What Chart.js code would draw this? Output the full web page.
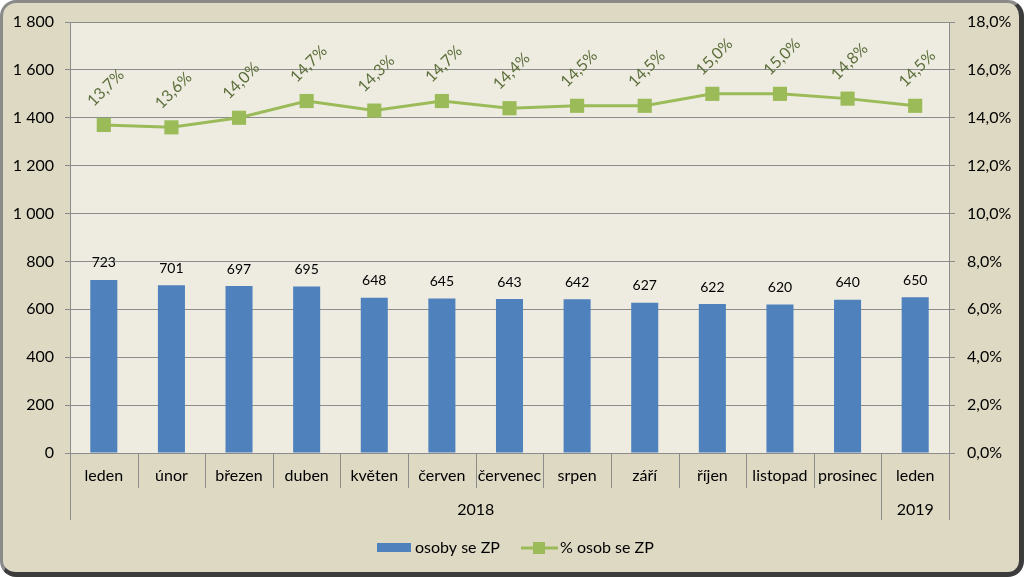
<!DOCTYPE html>
<html>
<head>
<meta charset="utf-8">
<script src="https://cdn.jsdelivr.net/npm/chart.js@4/dist/chart.umd.min.js"></script>
<style>
  html, body { margin: 0; padding: 0; background: #ffffff; }
  #frame {
    position: absolute; left: 0; top: 0; width: 1024px; height: 577px;
    box-sizing: border-box; background: #DDD9C3;
    border-top: 3px solid #8a8a8a; border-left: 3px solid #8a8a8a;
    border-right: 5px solid #3c3c3c; border-bottom: 5px solid #3c3c3c;
    border-radius: 16px;
  }
  #c { position: absolute; left: 0; top: 0; }
</style>
</head>
<body>
<div id="frame"></div>
<canvas id="c" width="1024" height="577"></canvas>
<script>
const categories = ['leden', 'únor', 'březen', 'duben', 'květen', 'červen', 'červenec', 'srpen', 'září', 'říjen', 'listopad', 'prosinec', 'leden'];
const yearGroups = [
  { label: '2018', from: 0, to: 11 },
  { label: '2019', from: 12, to: 12 }
];
const personsValues = [723, 701, 697, 695, 648, 645, 643, 642, 627, 622, 620, 640, 650];
const percentValues = [13.7, 13.6, 14.0, 14.7, 14.3, 14.7, 14.4, 14.5, 14.5, 15.0, 15.0, 14.8, 14.5];
const seriesNames = ['osoby se ZP', '% osob se ZP'];

const FONT = 'Lato, "Open Sans", "DejaVu Sans", sans-serif';
const BAR_COLOR = '#4F81BD';
const LINE_COLOR = '#9BBB59';
const GRID_COLOR = '#8C8C8C';

const fmtThousands = v => String(v).replace(/\B(?=(\d{3})+(?!\d))/g, ' ');
const fmtPct = v => v.toFixed(1).replace('.', ',') + '%';

const decorPlugin = {
  id: 'decor',
  beforeDraw(chart) {
    const { ctx, chartArea: a } = chart;
    ctx.save();
    ctx.fillStyle = '#EEECE1';
    ctx.fillRect(a.left, a.top, a.right - a.left, a.bottom - a.top);
    ctx.restore();
  },
  afterDraw(chart) {
    const { ctx, chartArea: a } = chart;
    const x = chart.scales.x;
    const n = categories.length;
    const step = (a.right - a.left) / n;
    ctx.save();
    // category dividers
    ctx.strokeStyle = GRID_COLOR;
    ctx.lineWidth = 1;
    const groupBoundaries = new Set();
    yearGroups.forEach(g => { groupBoundaries.add(g.from); groupBoundaries.add(g.to + 1); });
    for (let i = 0; i <= n; i++) {
      const px = Math.round(x.getPixelForValue(i) - step / 2) + 0.5;
      const bottom = groupBoundaries.has(i) ? a.bottom + 67 : a.bottom + 35;
      ctx.beginPath();
      ctx.moveTo(px, a.bottom);
      ctx.lineTo(px, bottom);
      ctx.stroke();
    }
    // category labels
    ctx.fillStyle = '#000000';
    ctx.font = '16px ' + FONT;
    ctx.textAlign = 'center';
    ctx.textBaseline = 'middle';
    categories.forEach((c, i) => {
      ctx.fillText(c, x.getPixelForValue(i), a.bottom + 23);
    });
    // year labels
    yearGroups.forEach(g => {
      const cx = (x.getPixelForValue(g.from) + x.getPixelForValue(g.to)) / 2;
      ctx.fillText(g.label, cx, a.bottom + 57);
    });
    // bar value labels
    const barMeta = chart.getDatasetMeta(0);
    ctx.font = '14px ' + FONT;
    barMeta.data.forEach((el, i) => {
      ctx.fillText(String(personsValues[i]), el.x, el.y - 17);
    });
    // line value labels (rotated)
    const lineMeta = chart.getDatasetMeta(1);
    ctx.fillStyle = '#5C6E3A';
    ctx.font = '16px ' + FONT;
    lineMeta.data.forEach((el, i) => {
      ctx.save();
      ctx.translate(el.x + 2, el.y - 37);
      ctx.rotate(-Math.PI / 4);
      ctx.fillText(fmtPct(percentValues[i]), 0, 0);
      ctx.restore();
    });
    // legend
    const ly = 548;
    ctx.fillStyle = BAR_COLOR;
    ctx.fillRect(377, ly - 5, 34, 9);
    ctx.fillStyle = '#000000';
    ctx.font = '16px ' + FONT;
    ctx.textAlign = 'left';
    ctx.fillText(seriesNames[0], 415, ly);
    ctx.strokeStyle = LINE_COLOR;
    ctx.lineWidth = 3;
    ctx.beginPath();
    ctx.moveTo(521, ly);
    ctx.lineTo(558, ly);
    ctx.stroke();
    ctx.fillStyle = LINE_COLOR;
    ctx.fillRect(533, ly - 6, 12, 12);
    ctx.fillStyle = '#000000';
    ctx.fillText(seriesNames[1], 560, ly);
    ctx.restore();
  }
};

new Chart(document.getElementById('c'), {
  data: {
    labels: categories,
    datasets: [
      {
        type: 'bar',
        label: seriesNames[0],
        data: personsValues,
        backgroundColor: BAR_COLOR,
        yAxisID: 'y',
        categoryPercentage: 1.0,
        barPercentage: 0.4,
        order: 2
      },
      {
        type: 'line',
        label: seriesNames[1],
        data: percentValues,
        borderColor: LINE_COLOR,
        backgroundColor: LINE_COLOR,
        borderWidth: 3,
        pointStyle: 'rect',
        pointRadius: 10,
        pointHoverRadius: 10,
        pointBackgroundColor: LINE_COLOR,
        pointBorderColor: LINE_COLOR,
        pointBorderWidth: 0,
        yAxisID: 'y1',
        tension: 0,
        order: 1
      }
    ]
  },
  options: {
    responsive: false,
    animation: false,
    devicePixelRatio: 1,
    layout: { padding: { left: 0, right: 0, top: 22, bottom: 124 } },
    plugins: { legend: { display: false }, tooltip: { enabled: false } },
    scales: {
      x: {
        type: 'category',
        offset: true,
        ticks: { display: false },
        grid: { display: false, drawTicks: false },
        border: { display: false }
      },
      y: {
        position: 'left',
        min: 0, max: 1800,
        ticks: {
          stepSize: 200,
          color: '#000000',
          font: { family: FONT, size: 16 },
          padding: 11,
          callback: v => fmtThousands(v)
        },
        grid: { color: GRID_COLOR, tickLength: 5, drawTicks: true },
        border: { display: true, color: GRID_COLOR },
        afterFit(scale) { scale.width = 70; }
      },
      y1: {
        position: 'right',
        min: 0, max: 18,
        ticks: {
          stepSize: 2,
          color: '#000000',
          font: { family: FONT, size: 16 },
          padding: 12,
          callback: v => fmtPct(v)
        },
        grid: { drawOnChartArea: false, color: GRID_COLOR, tickLength: 6 },
        border: { display: true, color: GRID_COLOR },
        afterFit(scale) { scale.width = 1024 - 949; }
      }
    }
  },
  plugins: [decorPlugin]
});
</script>
</body>
</html>
